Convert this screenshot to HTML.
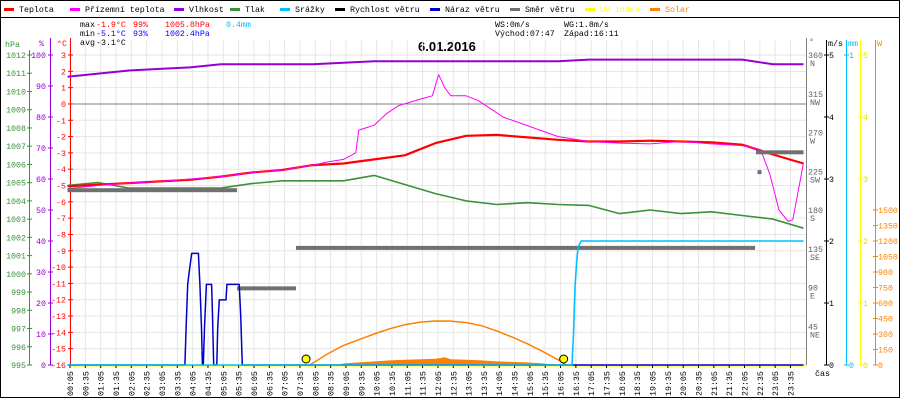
<!DOCTYPE html>
<html><head><meta charset="utf-8"><style>
body{margin:0;background:#fff}
svg{display:block;font-family:"Liberation Mono",monospace}
</style></head><body>
<svg id="c" width="900" height="400" viewBox="0 0 900 400">
<rect x="0.5" y="0.5" width="899" height="397" fill="#fff" stroke="#000"/>
<line x1="0" y1="17.5" x2="900" y2="17.5" stroke="#000"/>
<g id="legend" font-size="8.3"></g>
<g font-size="8.3">
<text x="80" y="27">max</text><text x="96" y="27" fill="#f00">-1.9°C</text><text x="133" y="27" fill="#f00">99%</text><text x="165" y="27" fill="#f00">1005.8hPa</text><text x="226" y="27" fill="#00bfff">0.4mm</text>
<text x="80" y="36">min</text><text x="96" y="36" fill="#00f">-5.1°C</text><text x="133" y="36" fill="#00f">93%</text><text x="165" y="36" fill="#00f">1002.4hPa</text>
<text x="80" y="45">avg</text><text x="96" y="45">-3.1°C</text>
<text x="495" y="27">WS:0m/s</text><text x="564" y="27">WG:1.8m/s</text>
<text x="495" y="36">Východ:07:47</text><text x="564" y="36">Západ:16:11</text>
</g>
<text x="418" y="51" font-size="13" font-weight="bold" font-family="Liberation Sans,sans-serif">6.01.2016</text>
<g id="grid"></g>
<g id="axes" font-size="8.3"></g>
<g id="series"></g>
</svg>
<script>
// ---- data ----
const hours = [0,1,2,3,4,5,6,7,8,9,10,11,12,13,14,15,16,17,18,19,20,21,22,23,24];
const temperature = [-5.05,-4.95,-4.85,-4.75,-4.65,-4.45,-4.2,-4.05,-3.75,-3.65,-3.4,-3.15,-2.4,-1.95,-1.9,-2.05,-2.2,-2.3,-2.3,-2.25,-2.3,-2.35,-2.5,-3.1,-3.65];
const humidity = [93,94,95,95.5,96,97,97,97,97,97.5,98,98,98,98,98,98,98,98.5,98.5,98.5,98.5,98.5,98.5,97,97];
const pressure = [1004.85,1005.0,1004.7,1004.7,1004.7,1004.7,1004.95,1005.1,1005.1,1005.1,1005.4,1004.9,1004.4,1004.0,1003.8,1003.9,1003.8,1003.75,1003.3,1003.5,1003.3,1003.4,1003.2,1003.0,1002.5];
const feelsHours = [0,1,2,3,4,5,6,7,8,8.5,9,9.4,9.5,10,10.4,10.8,11.5,11.9,12.1,12.3,12.5,13,13.4,13.8,14.2,14.8,15.4,16,17,18,19,20,21,22,22.6,22.9,23.2,23.5,23.65,23.9,24];
const feelsLike = [-5.2,-5.0,-4.85,-4.75,-4.6,-4.45,-4.2,-4.05,-3.75,-3.55,-3.4,-3.0,-1.6,-1.3,-0.6,-0.1,0.3,0.5,1.8,1.0,0.5,0.5,0.2,-0.3,-0.8,-1.2,-1.6,-2.0,-2.3,-2.4,-2.45,-2.3,-2.45,-2.55,-2.8,-4.3,-6.5,-7.2,-7.1,-4.6,-3.6];
const dirStart = [0,5.53,7.45,22.45];
const dirEnd = [5.53,7.45,22.42,24];
const dirValue = [203,89,136,247];
const gustHours = [0,3.83,3.87,3.92,3.97,4.05,4.27,4.32,4.37,4.4,4.43,4.47,4.53,4.7,4.73,4.77,4.87,4.9,4.95,5.17,5.2,5.6,5.65,5.7,24];
const gust = [0,0,0.6,1.3,1.5,1.8,1.8,1.3,0.6,0,0,0.6,1.3,1.3,0.8,0,0,0.6,1.05,1.05,1.3,1.3,0.8,0,0];
const rainHours = [0,16.45,16.5,16.55,16.6,16.65,16.75,24];
const rain = [0,0,0.1,0.25,0.33,0.38,0.4,0.4];
const solarHours = [7.9,8.5,9,9.5,10,10.5,11,11.5,12,12.5,13,13.5,14,14.5,15,15.5,16,16.25];
const solarTheory = [0,110,190,245,300,350,390,415,426,425,410,380,330,270,205,130,50,0];
const measHours = [8.8,9,9.5,10,10.5,11,11.5,12,12.3,12.5,13,13.5,14,14.5,15,15.5,16];
const solarMeasured = [0,15,25,35,45,50,55,60,75,55,50,45,35,30,25,15,0];
const sunEvents = [7.78,16.18];
const tempTicks = [3,2,1,0,-1,-2,-3,-4,-5,-6,-7,-8,-9,-10,-11,-12,-13,-14,-15,-16];
const hpaTicks = [1012,1011,1010,1009,1008,1007,1006,1005,1004,1003,1002,1001,1000,999,998,997,996,995];
const humTicks = [100,90,80,70,60,50,40,30,20,10,0];
const dirTicks = [360,315,270,225,180,135,90,45];
const dirNames = ["N","NW","W","SW","S","SE","E","NE"];
const msTicks = [0,1,2,3,4,5];
const wTicks = [0,150,300,450,600,750,900,1050,1200,1350,1500];
const timeLabels = [];
for(let h=0;h<24;h++){for(const m of ["05","35"]) timeLabels.push(String(h).padStart(2,"0")+":"+m);}

// ---- scales ----
const X0=70,X1=806,Y0=55,Y1=365;
const xH = h => 67.45 + h*30.67;
const yT = t => Y0 + (3-t)*(Y1-Y0)/19;
const yHum = v => Y1 - v*(Y1-Y0)/100;
const yP = p => Y1 - (p-995)*(Y1-Y0)/17;
const yDir = d => Y1 - d*(Y1-Y0)/360;
const yMs = v => Y1 - v*(Y1-Y0)/5;
const yMm = v => Y1 - v*(Y1-Y0);
const yW = w => Y1 - w*(Y1-Y0)/3000;
const NS="http://www.w3.org/2000/svg";
function mk(tag, parent, attrs, txt){const e=document.createElementNS(NS,tag);for(const k in attrs)e.setAttribute(k,attrs[k]);if(txt!==undefined)e.textContent=txt;parent.appendChild(e);return e;}
const grid=document.getElementById('grid'), axes=document.getElementById('axes'), ser=document.getElementById('series'), leg=document.getElementById('legend');

// legend
const legItems=[["Teplota","#f00",4],["Přízemní teplota","#f0f",70],["Vlhkost","#9400d3",174],["Tlak","#3a913a",230],["Srážky","#00bfff",280],["Rychlost větru","#000",335],["Náraz větru","#00c",430],["Směr větru","#707070",510],["UV index","#ff0",585],["Solar","#ff8000",650]];
legItems.forEach(([n,c,x])=>{
  const g=mk('g',leg,{});
  
  
  mk('rect',g,{x:x,y:8,width:10,height:3,fill:c});
  mk('text',g,{x:x+15,y:12,fill:(c=="#ff0"||c=="#ff8000")?c:"#000"},n);
});

// grid
for(let i=0;i<48;i++){const x=X0+i*15.33;const l=mk('line',grid,{x1:x,y1:40,x2:x,y2:Y1,stroke:"#e6e6e6"});}
tempTicks.forEach(t=>{const l=mk('line',grid,{x1:X0,y1:yT(t),x2:X1,y2:yT(t),stroke:"#e6e6e6"});});
mk('line',grid,{x1:X0,y1:yT(0),x2:X1,y2:yT(0),stroke:"#808080"});

// left axes
mk('line',axes,{x1:29.5,y1:50,x2:29.5,y2:Y1,stroke:"#3a913a"});
mk('line',axes,{x1:50.5,y1:38,x2:50.5,y2:Y1,stroke:"#9400d3"});
mk('line',axes,{x1:70.5,y1:38,x2:70.5,y2:Y1,stroke:"#f00"});
mk('text',axes,{x:5,y:47,fill:"#3a913a"},"hPa");
mk('text',axes,{x:39,y:46,fill:"#9400d3"},"%");
mk('text',axes,{x:57,y:46,fill:"#f00"},"°C");
hpaTicks.forEach(p=>{mk('line',axes,{x1:27,y1:yP(p),x2:32,y2:yP(p),stroke:"#3a913a"});const t=mk('text',axes,{x:26,y:yP(p)+3,fill:"#3a913a","text-anchor":"end"},p);});
humTicks.forEach(v=>{mk('line',axes,{x1:48,y1:yHum(v),x2:53,y2:yHum(v),stroke:"#9400d3"});mk('text',axes,{x:46,y:yHum(v)+3,fill:"#9400d3","text-anchor":"end"},v);});
tempTicks.forEach(v=>{mk('line',axes,{x1:68,y1:yT(v),x2:73,y2:yT(v),stroke:"#f00"});mk('text',axes,{x:66,y:yT(v)+3,fill:"#f00","text-anchor":"end"},v);});

// right axes
mk('line',axes,{x1:806.5,y1:38,x2:806.5,y2:Y1,stroke:"#808080"});
mk('line',axes,{x1:826.5,y1:40,x2:826.5,y2:Y1,stroke:"#000"});
mk('line',axes,{x1:846.5,y1:40,x2:846.5,y2:Y1,stroke:"#00bfff"});
mk('line',axes,{x1:860.5,y1:40,x2:860.5,y2:Y1,stroke:"#ff0"});
mk('line',axes,{x1:875.5,y1:40,x2:875.5,y2:Y1,stroke:"#ff8000"});
mk('text',axes,{x:809,y:44,fill:"#606060"},"°");
mk('text',axes,{x:828,y:46},"m/s");
mk('text',axes,{x:848,y:46,fill:"#00bfff"},"mm");
mk('text',axes,{x:877,y:46,fill:"#ff8000"},"W");
dirTicks.forEach((d,i)=>{mk('text',axes,{x:808,y:yDir(d)+3,fill:"#606060"},d);mk('text',axes,{x:810,y:yDir(d)+11,fill:"#606060"},dirNames[i]);});
msTicks.forEach(v=>{mk('line',axes,{x1:824,y1:yMs(v),x2:829,y2:yMs(v),stroke:"#000"});mk('text',axes,{x:829,y:yMs(v)+3},v);
  mk('line',axes,{x1:858,y1:yMs(v),x2:863,y2:yMs(v),stroke:"#ff0"});mk('text',axes,{x:863,y:yMs(v)+3,fill:"#e0e000"},v);});
[0,1].forEach(v=>{mk('line',axes,{x1:844,y1:yMm(v),x2:849,y2:yMm(v),stroke:"#00bfff"});mk('text',axes,{x:849,y:yMm(v)+3,fill:"#00bfff"},v);});
wTicks.forEach(v=>{mk('line',axes,{x1:873,y1:yW(v),x2:878,y2:yW(v),stroke:"#ff8000"});mk('text',axes,{x:878,y:yW(v)+3,fill:"#ff8000"},v);});

// x axis
mk('line',axes,{x1:X0,y1:365.5,x2:X1,y2:365.5,stroke:"#ff0",'stroke-width':2});
timeLabels.forEach((s,i)=>{const x=X0+i*15.33;mk('line',axes,{x1:x,y1:365,x2:x,y2:368,stroke:"#000"});
  const t=mk('text',axes,{transform:`translate(${x+3},396) rotate(-90)`},s);
  });
mk('text',axes,{x:815,y:376},"čas");

// series
function line(xs,ys,fx,fy,color,w,name,step){
  let d="";xs.forEach((h,i)=>{const x=xH(h).toFixed(1),y=fy(ys[i]).toFixed(1);d+=(i?"L":"M")+x+","+y;});
  const p=mk('path',ser,{d:d,fill:"none",stroke:color,'stroke-width':w,'stroke-linejoin':'round'});
  return p;
}
// solar measured area
{let d="M"+xH(measHours[0])+","+Y1;measHours.forEach((h,i)=>{d+="L"+xH(h).toFixed(1)+","+yW(solarMeasured[i]).toFixed(1);});d+="L"+xH(measHours[measHours.length-1])+","+Y1+"Z";
 const p=mk('path',ser,{d:d,fill:"#ff8000"});}
line(solarHours,solarTheory,xH,yW,"#ff8000",1.5,"solar-theoretical-line");
line(hours,humidity,xH,yHum,"#9400d3",2,"humidity-line");
line(hours,pressure,xH,yP,"#3a913a",1.6,"pressure-line");
line(hours,temperature,xH,yT,"#f00",2.2,"temperature-line");
line(feelsHours,feelsLike,xH,yT,"#f0f",1,"feels-like-line");
dirValue.forEach((d,i)=>{const r=mk('rect',ser,{x:xH(dirStart[i]),y:yDir(d)-2,width:xH(dirEnd[i])-xH(dirStart[i]),height:4,fill:"#707070"});});
mk('rect',ser,{x:xH(22.5),y:yDir(224)-2,width:4,height:4,fill:"#707070"});
line(gustHours,gust,xH,yMs,"#00c",1.5,"wind-gust-line");
line(rainHours,rain,xH,yMm,"#00bfff",1.6,"rain-line");
sunEvents.forEach(h=>{const c=mk('circle',ser,{cx:xH(h),cy:359,r:4,fill:"#ff0",stroke:"#000"});});
</script>
</body></html>
